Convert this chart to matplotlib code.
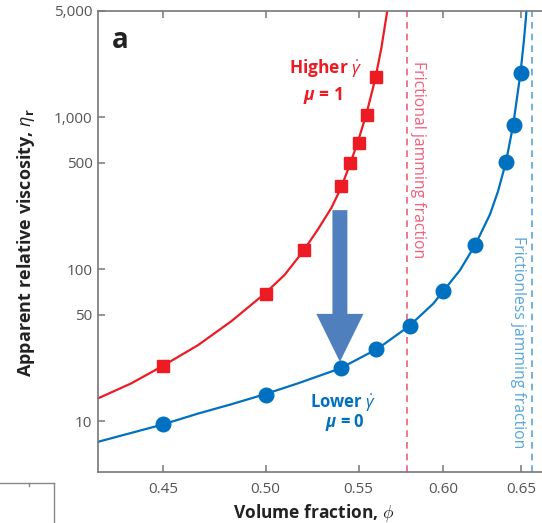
import matplotlib
matplotlib.use("Agg")
import matplotlib.pyplot as plt
from matplotlib.patches import FancyArrow
from matplotlib.lines import Line2D
from matplotlib.ticker import FixedLocator, FixedFormatter, NullLocator

# =========================================================
# 字体
# =========================================================
plt.rcParams["font.family"] = ["Open Sans", "DejaVu Sans"]
plt.rcParams["mathtext.fontset"] = "custom"
plt.rcParams["mathtext.rm"] = "Open Sans"
plt.rcParams["mathtext.it"] = "Open Sans:italic"
plt.rcParams["mathtext.bf"] = "Open Sans:bold"
plt.rcParams["mathtext.bfit"] = "Open Sans:italic:bold"

# =========================================================
# 数据
# =========================================================
# mu = 1 (higher shear rate)
phi_mu1 = [0.45, 0.50, 0.52, 0.54, 0.545, 0.55, 0.555, 0.56]
eta_mu1 = [23.1, 68.9, 133, 351, 497, 676, 1032, 1849]

# mu = 0 (lower shear rate)
phi_mu0 = [0.45, 0.50, 0.54, 0.56, 0.58, 0.60, 0.62, 0.64, 0.645, 0.65]
eta_mu0 = [9.5, 14.9, 22.2, 30.0, 42.2, 71.7, 144.5, 504, 887, 1966]

# fitted curves
fit_phi_mu1 = [0.421, 0.4356, 0.45, 0.4665, 0.4827, 0.4995, 0.5098, 0.5195, 0.5275,
               0.5348, 0.540, 0.545, 0.5496, 0.5543, 0.5595, 0.563, 0.5652, 0.5664, 0.5668]
fit_eta_mu1 = [14.1, 17.7, 23.1, 31.6, 45.4, 68.9, 91.6, 130.7, 182.3,
               252.3, 338.8, 483.3, 689.6, 1037, 1788, 2856, 4106, 5000, 5400]

fit_phi_mu0 = [0.421, 0.45, 0.4665, 0.4827, 0.4995, 0.5168, 0.5397, 0.561, 0.5793, 0.5938,
               0.6102, 0.6199, 0.6293, 0.6345, 0.6397, 0.6445, 0.6494, 0.6516, 0.6528, 0.6536]
fit_eta_mu0 = [7.3, 9.5, 11.2, 12.9, 15.0, 17.7, 22.2, 30.0, 42.2, 59.3,
               98.1, 144.5, 228.7, 323.7, 504, 887, 1966, 3175, 4295, 5400]

# jamming fractions
phi_frictional = 0.578
phi_frictionless = 0.657

xticks = [0.45, 0.50, 0.55, 0.60, 0.65]
xticklabels = ["0.45", "0.50", "0.55", "0.60", "0.65"]
yticks = [10, 50, 100, 500, 1000, 5000]
yticklabels = ["10", "50", "100", "500", "1,000", "5,000"]

RED = "#ed1c24"
BLUE = "#0070c0"
RED_DASH = "#f0607a"
BLUE_DASH = "#58a6dc"
ARROW = "#4f7fbd"
SPINE = "#777777"

# =========================================================
# 画图
# =========================================================
W, H = 542, 523
fig = plt.figure(figsize=(W / 100, H / 100), dpi=100)
ax = fig.add_axes([98 / W, 51 / H, 453 / W, 461 / H])
ax.set_xscale("log")
ax.set_yscale("log")
ax.set_xlim(0.421, 0.67)
ax.set_ylim(4.62, 5000)

ax.axvline(phi_frictional, color=RED_DASH, lw=1.2, ls=(0, (4, 3)), zorder=1)
ax.axvline(phi_frictionless, color=BLUE_DASH, lw=1.2, ls=(0, (4, 3)), zorder=1)

ax.plot(fit_phi_mu1, fit_eta_mu1, color=RED, lw=1.6, zorder=2, solid_joinstyle="round")
ax.plot(fit_phi_mu0, fit_eta_mu0, color=BLUE, lw=1.6, zorder=2, solid_joinstyle="round")
ax.plot(phi_mu1, eta_mu1, ls="none", marker="s", ms=9, color=RED, zorder=3)
ax.plot(phi_mu0, eta_mu0, ls="none", marker="o", ms=10.5, color=BLUE, zorder=3)

# 箭头
ax.add_patch(FancyArrow(0.534, 0.568, 0, -0.329, width=0.033, head_width=0.104,
                        head_length=0.104, length_includes_head=True,
                        color=ARROW, lw=0, transform=ax.transAxes, zorder=4))

# 文字标注
ax.text(0.502, 0.865, r"Higher $\dot{\gamma}$", color=RED, fontsize=12.5,
        fontweight="bold", ha="center", va="baseline", transform=ax.transAxes)
ax.text(0.497, 0.806, r"$\boldsymbol{\mu}$ = 1", color=RED, fontsize=12.5,
        fontweight="bold", ha="center", va="baseline", transform=ax.transAxes)
ax.text(0.540, 0.141, r"Lower $\dot{\gamma}$", color=BLUE, fontsize=12,
        fontweight="bold", ha="center", va="baseline", transform=ax.transAxes)
ax.text(0.545, 0.097, r"$\boldsymbol{\mu}$ = 0", color=BLUE, fontsize=12,
        fontweight="bold", ha="center", va="baseline", transform=ax.transAxes)

ax.text(0.5845, 0.892, "Frictional jamming fraction", color=RED_DASH, fontsize=11.3,
        rotation=270, ha="center", va="top", transform=ax.get_xaxis_transform())
ax.text(0.648, 0.512, "Frictionless jamming fraction", color=BLUE_DASH, fontsize=11.3,
        rotation=270, ha="center", va="top", transform=ax.get_xaxis_transform())

ax.text(0.031, 0.92, "a", fontsize=20, fontweight="bold", color="#222222",
        ha="left", va="baseline", transform=ax.transAxes)

# 坐标轴
ax.xaxis.set_major_locator(FixedLocator(xticks))
ax.xaxis.set_major_formatter(FixedFormatter(xticklabels))
ax.xaxis.set_minor_locator(NullLocator())
ax.yaxis.set_major_locator(FixedLocator(yticks))
ax.yaxis.set_major_formatter(FixedFormatter(yticklabels))
ax.yaxis.set_minor_locator(NullLocator())

ax.tick_params(axis="both", which="major", direction="in", length=5, width=1.1,
               color=SPINE, labelcolor="#555555", labelsize=11)
ax.tick_params(axis="x", top=True, pad=7)
ax.tick_params(axis="y", right=False, pad=4)
for side in ["left", "bottom", "top"]:
    ax.spines[side].set_color(SPINE)
    ax.spines[side].set_linewidth(1.2)
ax.spines["right"].set_visible(False)

ax.set_xlabel(r"Volume fraction, $\phi$", fontsize=12.5, fontweight="bold",
              color="#222222")
ax.set_ylabel(r"Apparent relative viscosity, $\eta_{\mathbf{r}}$", fontsize=13,
              fontweight="bold", color="#222222")
ax.xaxis.set_label_coords(0.477, -0.065)
ax.yaxis.set_label_coords(-0.135, 0.497)

# 左下角相邻面板的边框
edge = "#888888"
fig.add_artist(Line2D([0, 54 / W], [1 - 482.7 / H] * 2, color=edge, lw=1.0))
fig.add_artist(Line2D([54 / W] * 2, [1 - 482.7 / H, 0], color=edge, lw=1.0))
fig.add_artist(Line2D([29 / W] * 2, [1 - 482.7 / H, 1 - 486 / H], color=edge, lw=1.0))

fig.savefig("out.png", dpi=100)
